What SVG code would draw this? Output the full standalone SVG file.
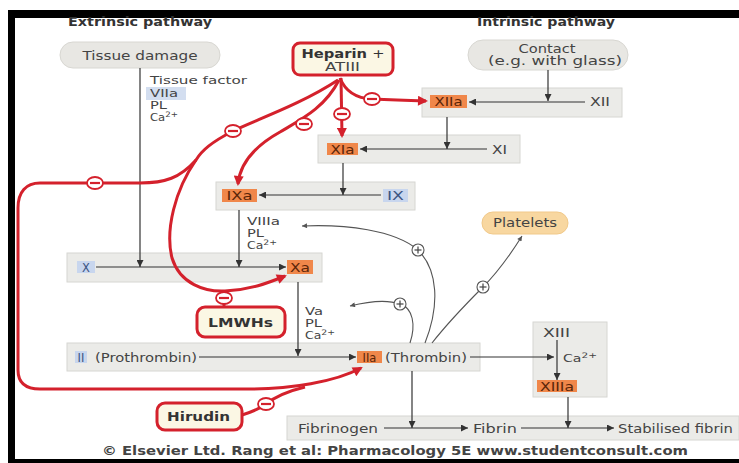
<svg xmlns="http://www.w3.org/2000/svg" width="739" height="463" viewBox="0 0 739 463">
<defs>
<style>
text{font-family:"DejaVu Sans","Liberation Sans",sans-serif;fill:#444;font-size:11.5px}
.sm{font-size:10px}
.hdr{font-weight:bold;font-size:12px;fill:#333}
.row{fill:#ebebe8;stroke:#d6d6d2;stroke-width:1}
.or{fill:#f0874a}
.bl{fill:#c8d6ee}
.ot{fill:#5a2508;text-anchor:middle}
.bt{fill:#3b5582;text-anchor:middle}
.ln{stroke:#333;stroke-width:1.2;fill:none;marker-end:url(#ah)}
.fb{stroke:#555;stroke-width:1.1;fill:none;marker-end:url(#ahs)}
.red{stroke:#d4212c;stroke-width:3;fill:none}
.reda{stroke:#d4212c;stroke-width:3;fill:none;marker-end:url(#rah)}
.drug{fill:#fbf7e4;stroke:#d4212c;stroke-width:3}
.dt{font-weight:bold;fill:#333;text-anchor:middle}
.mc{fill:#fff;stroke:#d4212c;stroke-width:1.8}
.pc{fill:#fff;stroke:#555;stroke-width:1.1}
.pill{fill:#e8e7e3;stroke:#d8d7d2}
</style>
<marker id="ah" viewBox="0 0 10 10" refX="10" refY="5" markerWidth="10" markerHeight="7" markerUnits="userSpaceOnUse" orient="auto"><path d="M0,0 L10,5 L0,10 z" fill="#333"/></marker>
<marker id="ahs" viewBox="0 0 10 10" refX="10" refY="5" markerWidth="7" markerHeight="5" markerUnits="userSpaceOnUse" orient="auto"><path d="M0,0 L10,5 L0,10 z" fill="#555"/></marker>
<marker id="rah" viewBox="0 0 10 10" refX="8" refY="5" markerWidth="13" markerHeight="10" markerUnits="userSpaceOnUse" orient="auto"><path d="M0,0 L10,5 L0,10 z" fill="#d4212c"/></marker>
<g id="minus"><ellipse cx="0" cy="0" rx="8" ry="6" class="mc"/><line x1="-5" y1="0" x2="5" y2="0" stroke="#d4212c" stroke-width="2.2"/></g>
<g id="plus"><circle cx="0" cy="0" r="6" class="pc"/><line x1="-3.5" y1="0" x2="3.5" y2="0" stroke="#444" stroke-width="1.2"/><line x1="0" y1="-3.5" x2="0" y2="3.5" stroke="#444" stroke-width="1.2"/></g>
</defs>
<rect width="739" height="463" fill="#fff"/>
<!-- frame -->
<rect x="8" y="10" width="731" height="8" fill="#000"/>
<rect x="8" y="10" width="7" height="453" fill="#000"/>
<rect x="8" y="459" width="731" height="4" fill="#000"/>

<text x="68" y="26" class="hdr" textLength="144" lengthAdjust="spacingAndGlyphs">Extrinsic pathway</text>
<text x="477" y="26" class="hdr" textLength="138" lengthAdjust="spacingAndGlyphs">Intrinsic pathway</text>

<!-- rows -->
<g id="row-xiia"><rect x="422" y="88" width="200" height="29" class="row"/><rect x="430" y="95" width="37" height="13" class="or"/><text x="448.5" y="106" class="ot" textLength="28" lengthAdjust="spacingAndGlyphs">XIIa</text><text x="590" y="106" textLength="20" lengthAdjust="spacingAndGlyphs">XII</text></g>
<g id="row-xia"><rect x="318" y="135" width="202" height="28" class="row"/><rect x="327" y="143" width="31" height="12" class="or"/><text x="342.5" y="153.5" class="ot" textLength="24" lengthAdjust="spacingAndGlyphs">XIa</text><text x="492" y="153.5" textLength="15" lengthAdjust="spacingAndGlyphs">XI</text></g>
<g id="row-ixa"><rect x="216" y="182" width="199" height="28" class="row"/><rect x="222" y="189" width="35" height="13" class="or"/><text x="239.5" y="200" class="ot" textLength="26" lengthAdjust="spacingAndGlyphs">IXa</text><rect x="383" y="189" width="25" height="13" class="bl"/><text x="395.5" y="200" class="bt" textLength="17" lengthAdjust="spacingAndGlyphs">IX</text></g>
<g id="row-xa"><rect x="67" y="253" width="255" height="29" class="row"/><rect x="77" y="261" width="18" height="12" class="bl"/><text x="86" y="271.5" class="bt">X</text><rect x="287" y="260" width="26" height="14" class="or"/><text x="300" y="271.5" class="ot" textLength="20" lengthAdjust="spacingAndGlyphs">Xa</text></g>
<g id="row-ii"><rect x="67" y="343" width="413" height="28" class="row"/><rect x="75" y="351" width="12" height="12" class="bl"/><text x="81" y="361.5" class="bt">II</text><text x="95" y="361.5" textLength="102" lengthAdjust="spacingAndGlyphs">(Prothrombin)</text><rect x="357" y="351" width="25" height="12" class="or"/><text x="369.5" y="361.5" class="ot">IIa</text><text x="385" y="361.5" textLength="82" lengthAdjust="spacingAndGlyphs">(Thrombin)</text></g>
<g id="box-xiii"><rect x="533" y="322" width="74" height="75" class="row"/><text x="543" y="337" textLength="27" lengthAdjust="spacingAndGlyphs">XIII</text><text x="563" y="362" class="sm" textLength="34" lengthAdjust="spacingAndGlyphs">Ca<tspan dy="-4" font-size="7.5">2+</tspan></text><rect x="537" y="380" width="40" height="12" class="or"/><text x="557" y="390.5" class="ot" textLength="34" lengthAdjust="spacingAndGlyphs">XIIIa</text></g>
<g id="row-fibrin"><rect x="287" y="416" width="452" height="24" class="row"/><text x="298" y="432.5" textLength="80" lengthAdjust="spacingAndGlyphs">Fibrinogen</text><text x="473" y="432.5" textLength="44" lengthAdjust="spacingAndGlyphs">Fibrin</text><text x="618" y="432.5" textLength="115" lengthAdjust="spacingAndGlyphs">Stabilised fibrin</text></g>

<!-- pills -->
<g id="tissue-damage"><rect x="60" y="42" width="160" height="26" rx="13" class="pill"/><text x="140" y="59.5" text-anchor="middle" font-size="12.5" textLength="115" lengthAdjust="spacingAndGlyphs">Tissue damage</text></g>
<g id="contact"><rect x="468" y="40" width="160" height="30" rx="15" class="pill"/><text x="547" y="52.5" text-anchor="middle" textLength="57" lengthAdjust="spacingAndGlyphs">Contact</text><text x="555" y="65" text-anchor="middle" textLength="134" lengthAdjust="spacingAndGlyphs">(e.g. with glass)</text></g>
<g id="platelets"><rect x="482" y="212" width="86" height="22" rx="11" fill="#f8d7a0" stroke="#f1c98a"/><text x="525" y="227" text-anchor="middle" fill="#333" textLength="64" lengthAdjust="spacingAndGlyphs">Platelets</text></g>

<!-- cofactor texts -->
<g id="tf-text"><text x="150" y="84" class="sm" textLength="97" lengthAdjust="spacingAndGlyphs">Tissue factor</text><rect x="146" y="87" width="40" height="13" fill="#d3def0"/><text x="150" y="97" class="sm" textLength="28" lengthAdjust="spacingAndGlyphs">VIIa</text><text x="150" y="109" class="sm" textLength="17" lengthAdjust="spacingAndGlyphs">PL</text><text x="150" y="121" class="sm" textLength="28" lengthAdjust="spacingAndGlyphs">Ca<tspan dy="-4" font-size="7.5">2+</tspan></text></g>
<g id="viiia-text"><text x="247" y="225" class="sm" textLength="33" lengthAdjust="spacingAndGlyphs">VIIIa</text><text x="247" y="237" class="sm" textLength="17" lengthAdjust="spacingAndGlyphs">PL</text><text x="247" y="249" class="sm" textLength="30" lengthAdjust="spacingAndGlyphs">Ca<tspan dy="-4" font-size="7.5">2+</tspan></text></g>
<g id="va-text"><text x="305" y="315" class="sm" textLength="18" lengthAdjust="spacingAndGlyphs">Va</text><text x="305" y="327" class="sm" textLength="17" lengthAdjust="spacingAndGlyphs">PL</text><text x="305" y="339" class="sm" textLength="30" lengthAdjust="spacingAndGlyphs">Ca<tspan dy="-4" font-size="7.5">2+</tspan></text></g>

<!-- connectors -->
<g id="connectors">
<path d="M548 70 V101" class="ln"/>
<path d="M585 102 H469" class="ln"/>
<path d="M447 117 V149" class="ln"/>
<path d="M487 149 H360" class="ln"/>
<path d="M343 163 V195" class="ln"/>
<path d="M381 195 H259" class="ln"/>
<path d="M140 68 V267" class="ln"/>
<path d="M239 210 V267" class="ln"/>
<path d="M96 267 H286" class="ln"/>
<path d="M298 282 V356" class="ln"/>
<path d="M199 357 H356" class="ln"/>
<path d="M470 357 H554" class="ln"/>
<path d="M557 340 V380" class="ln"/>
<path d="M412 371 V428" class="ln"/>
<path d="M384 428 H468" class="ln"/>
<path d="M568 397 V428" class="ln"/>
<path d="M521 428 H614" class="ln"/>
<!-- thrombin feedback -->
<path d="M425 343 C440 305 438 270 418 250 C395 230 345 224 302 226" class="fb"/>
<path d="M410 343 C416 325 413 308 400 304 C386 299 366 302 350 306" class="fb"/>
<path d="M432 343 C450 320 470 300 483 287 C500 270 512 252 522 236" class="fb"/>
<use href="#plus" x="418" y="250"/>
<use href="#plus" x="400" y="304"/>
<use href="#plus" x="483" y="287"/>
<!-- inhibitory red -->
<path d="M340 78 Q348 98 372 99 Q395 100 426 101" class="reda"/>
<path d="M341 78 L342 136" class="reda"/>
<path d="M339 80 C325 108 300 120 280 132 C255 146 240 162 238 184" class="reda"/>
<path d="M338 80 C300 105 255 120 233 131 C212 142 202 150 196 160 C180 178 165 183 140 183 L40 183 C26 183 18 192 18 208 L18 370 C18 383 26 389 40 389 L250 389 C290 389 335 382 361 368" class="reda"/>
<path d="M196 160 C175 190 165 230 172 258 C180 284 205 292 225 291 C250 290 268 283 285 276" class="reda"/>
<path d="M224 307 V291" class="red"/>
<path d="M242 415 Q258 410 266 404 Q280 393 305 387" class="red"/>
<use href="#minus" x="372" y="99"/>
<use href="#minus" x="342" y="114"/>
<use href="#minus" x="304" y="124"/>
<use href="#minus" x="233" y="131"/>
<use href="#minus" x="95" y="183"/>
<use href="#minus" x="224" y="298"/>
<use href="#minus" x="266" y="404"/>
</g>

<!-- drug boxes -->
<g id="heparin"><rect x="293" y="43" width="100" height="32" rx="7" class="drug"/><text x="343" y="57.5" class="dt" font-size="12.5" textLength="83" lengthAdjust="spacingAndGlyphs">Heparin <tspan font-weight="normal">+</tspan></text><text x="342.5" y="70.5" text-anchor="middle" fill="#333" textLength="35" lengthAdjust="spacingAndGlyphs">ATIII</text></g>
<g id="lmwhs"><rect x="197" y="307" width="88" height="30" rx="8" class="drug"/><text x="240.5" y="327" class="dt" font-size="13" textLength="65" lengthAdjust="spacingAndGlyphs">LMWHs</text></g>
<g id="hirudin"><rect x="157" y="403" width="85" height="27" rx="8" class="drug"/><text x="198.5" y="421" class="dt" font-size="12.5" textLength="63" lengthAdjust="spacingAndGlyphs">Hirudin</text></g>

<text x="102" y="455" font-family="'DejaVu Sans Mono','Liberation Mono',monospace" font-weight="bold" font-size="13.5" fill="#222" textLength="586" lengthAdjust="spacingAndGlyphs">© Elsevier Ltd. Rang et al: Pharmacology 5E www.studentconsult.com</text>
</svg>
